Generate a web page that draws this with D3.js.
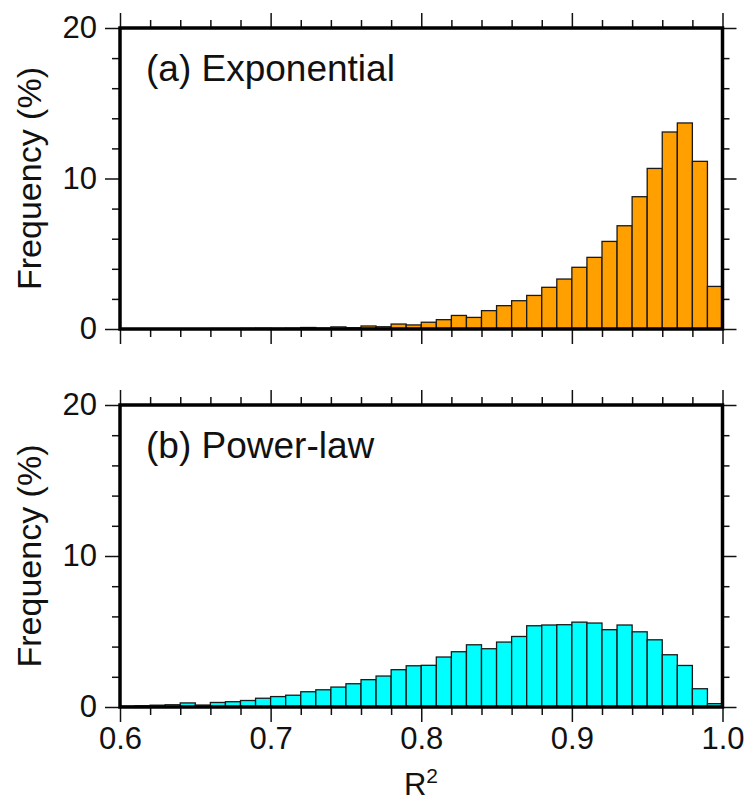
<!DOCTYPE html>
<html>
<head>
<meta charset="utf-8">
<script src="https://cdnjs.cloudflare.com/ajax/libs/d3/7.8.5/d3.min.js"></script>
<style>
  body { margin: 0; background: #fff; }
  text { font-family: "Liberation Sans", Arial, Helvetica, sans-serif; fill: #111; }
</style>
</head>
<body>
<svg id="chart" width="753" height="803"></svg>
<script>
// lower edges of the R^2 bins (bin width 0.01)
var binStart = [0.60, 0.61, 0.62, 0.63, 0.64, 0.65, 0.66, 0.67, 0.68, 0.69,
                0.70, 0.71, 0.72, 0.73, 0.74, 0.75, 0.76, 0.77, 0.78, 0.79,
                0.80, 0.81, 0.82, 0.83, 0.84, 0.85, 0.86, 0.87, 0.88, 0.89,
                0.90, 0.91, 0.92, 0.93, 0.94, 0.95, 0.96, 0.97, 0.98, 0.99];
var binWidth = 0.01;

// frequency (%) per bin
var exponentialFreq = [0.01, 0.01, 0.01, 0.02, 0.02, 0.02, 0.03, 0.03, 0.04, 0.05,
                       0.04, 0.05, 0.10, 0.06, 0.14, 0.08, 0.20, 0.15, 0.33, 0.27,
                       0.45, 0.62, 0.90, 0.77, 1.22, 1.55, 1.88, 2.23, 2.77, 3.32,
                       4.10, 4.76, 5.82, 6.86, 8.79, 10.67, 13.09, 13.69, 11.14, 2.83];
var powerLawFreq = [0.05, 0.08, 0.12, 0.15, 0.27, 0.13, 0.30, 0.35, 0.43, 0.58,
                    0.69, 0.78, 1.01, 1.14, 1.32, 1.54, 1.81, 2.05, 2.47, 2.73,
                    2.76, 3.31, 3.66, 4.12, 3.86, 4.30, 4.67, 5.38, 5.43, 5.45,
                    5.62, 5.56, 5.12, 5.43, 4.98, 4.45, 3.46, 2.75, 1.21, 0.22];

var xMajor = [0.6, 0.7, 0.8, 0.9, 1.0];
var xMinor = [0.62, 0.64, 0.66, 0.68, 0.72, 0.74, 0.76, 0.78, 0.82, 0.84, 0.86, 0.88, 0.92, 0.94, 0.96, 0.98];
var yMajor = [0, 10, 20];
var yMinor = [2, 4, 6, 8, 12, 14, 16, 18];

var panels = [
  { title: "(a) Exponential", values: exponentialFreq, color: "#ff9f00", top: 28, bottom: 329, xLabels: false },
  { title: "(b) Power-law", values: powerLawFreq, color: "#00ffff", top: 405, bottom: 707, xLabels: true }
];

var svg = d3.select("#chart");
var x = d3.scaleLinear().domain([0.6, 1.0]).range([120, 722.5]);

panels.forEach(function (p) {
  var y = d3.scaleLinear().domain([0, 20]).range([p.bottom, p.top]);
  var g = svg.append("g");

  g.selectAll("rect.bar")
    .data(p.values)
    .enter()
    .append("rect")
      .attr("class", "bar")
      .attr("x", function (d, i) { return x(binStart[i]); })
      .attr("width", function (d, i) { return x(binStart[i] + binWidth) - x(binStart[i]); })
      .attr("y", function (d) { return y(d); })
      .attr("height", function (d) { return y(0) - y(d); })
      .style("fill", p.color)
      .style("stroke", "#1a1a1a")
      .style("stroke-width", 1.3);

  // ticks, all pointing outwards
  g.append("g").attr("transform", "translate(120,0)")
    .call(d3.axisLeft(y).tickValues(yMajor).tickSize(15).tickPadding(8).tickFormat(d3.format("d")));
  g.append("g").attr("transform", "translate(120,0)")
    .call(d3.axisLeft(y).tickValues(yMinor).tickSize(8).tickFormat(""));
  g.append("g").attr("transform", "translate(722.5,0)")
    .call(d3.axisRight(y).tickValues(yMajor).tickSize(14).tickFormat(""));
  g.append("g").attr("transform", "translate(722.5,0)")
    .call(d3.axisRight(y).tickValues(yMinor).tickSize(7).tickFormat(""));
  g.append("g").attr("transform", "translate(0," + p.top + ")")
    .call(d3.axisTop(x).tickValues(xMajor).tickSize(15).tickFormat(""));
  g.append("g").attr("transform", "translate(0," + p.top + ")")
    .call(d3.axisTop(x).tickValues(xMinor).tickSize(8).tickFormat(""));
  g.append("g").attr("transform", "translate(0," + p.bottom + ")")
    .call(d3.axisBottom(x).tickValues(xMajor).tickSize(15).tickPadding(5)
      .tickFormat(p.xLabels ? d3.format(".1f") : ""));
  g.append("g").attr("transform", "translate(0," + p.bottom + ")")
    .call(d3.axisBottom(x).tickValues(xMinor).tickSize(8).tickFormat(""));

  g.selectAll(".domain").remove();
  g.selectAll(".tick line").style("stroke", "#111").style("stroke-width", 1.5);
  g.selectAll(".tick text").style("font-size", "31px").style("fill", "#111")
    .style("font-family", "'Liberation Sans', Arial, sans-serif");

  // frame
  g.append("rect")
    .attr("x", 120).attr("y", p.top)
    .attr("width", 602.5).attr("height", p.bottom - p.top)
    .style("fill", "none").style("stroke", "#000").style("stroke-width", 3.5);

  g.append("text")
    .attr("x", 146).attr("y", p.top + 53)
    .style("font-size", "37px")
    .text(p.title);

  g.append("text")
    .attr("transform", "translate(41," + ((p.top + p.bottom) / 2) + ") rotate(-90)")
    .attr("text-anchor", "middle")
    .style("font-size", "34px")
    .text("Frequency (%)");
});

// x axis title
var xt = svg.append("text")
  .attr("x", 421).attr("y", 795)
  .attr("text-anchor", "middle")
  .style("font-size", "31px");
xt.append("tspan").text("R");
xt.append("tspan").attr("dy", -12).style("font-size", "21px").text("2");
</script>
</body>
</html>
